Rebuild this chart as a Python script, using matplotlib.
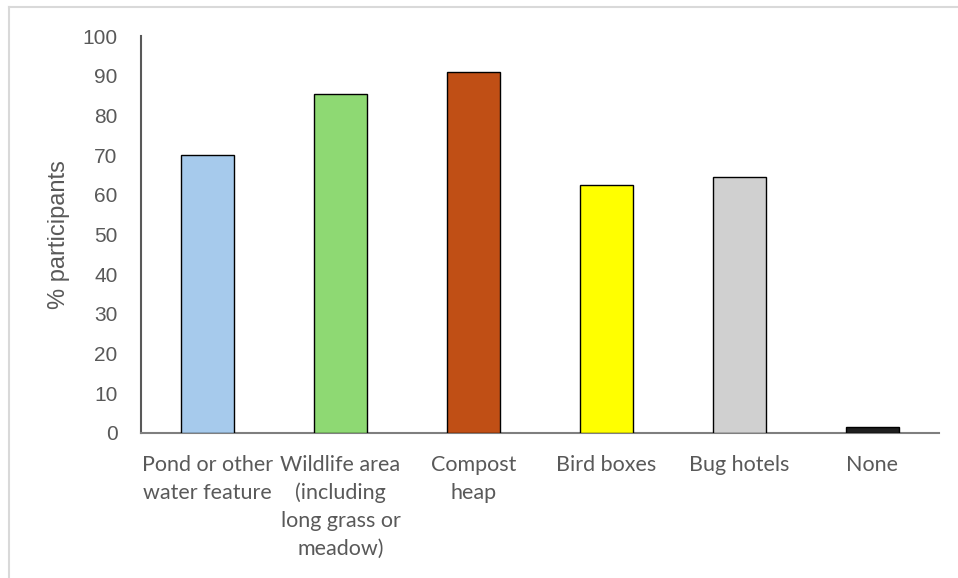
import matplotlib
matplotlib.use("Agg")
import matplotlib.pyplot as plt
from matplotlib.lines import Line2D

categories = [
    "Pond or other\nwater feature",
    "Wildlife area\n(including\nlong grass or\nmeadow)",
    "Compost\nheap",
    "Bird boxes",
    "Bug hotels",
    "None",
]
values = [70.0, 85.3, 90.8, 62.4, 64.4, 1.4]
colors = ["#A6CAEC", "#8ED973", "#C04F15", "#FFFF00", "#D0D0D0", "#1F1F1F"]
yticks = list(range(0, 101, 10))

W, H = 958, 578
fig = plt.figure(figsize=(W / 100, H / 100), dpi=100)
fig.patch.set_facecolor("white")

# light chart-area border (top and left edges)
fig.add_artist(Line2D([8.5 / W, 1.0], [1 - 7 / H, 1 - 7 / H], color="#D9D9D9", lw=1.5))
fig.add_artist(Line2D([8.5 / W, 8.5 / W], [0.0, 1 - 7 / H], color="#D9D9D9", lw=1.5))

left, right = 141 / W, 939 / W
bottom, top = 1 - 432.7 / H, 1 - 36 / H
ax = fig.add_axes([left, bottom, right - left, top - bottom])

x = range(len(categories))
ax.bar(x, values, width=0.4, color=colors, edgecolor="black", linewidth=1.0, zorder=3)

ax.set_xlim(-0.5, len(categories) - 0.5)
ax.set_ylim(0, 100)
ax.set_yticks(yticks)
ax.set_yticklabels([str(t) for t in yticks], fontsize=15, color="#595959",
                   family=["Liberation Sans", "DejaVu Sans"])
ax.set_xticks(list(x))
ax.set_xticklabels(categories, fontsize=15.5, color="#595959", linespacing=1.48,
                   family=["Lato", "DejaVu Sans"], va="top")
ax.tick_params(axis="both", length=0)
ax.tick_params(axis="y", pad=17)
ax.tick_params(axis="x", pad=16)

ax.set_ylabel("% participants", fontsize=17, color="#595959",
              family=["Liberation Sans", "DejaVu Sans"], labelpad=9)

for s in ["top", "right"]:
    ax.spines[s].set_visible(False)
ax.spines["left"].set_color("#595959")
ax.spines["left"].set_linewidth(1.5)
ax.spines["bottom"].set_color("#7F7F7F")
ax.spines["bottom"].set_linewidth(1.5)

fig.savefig("out.png", dpi=100)
